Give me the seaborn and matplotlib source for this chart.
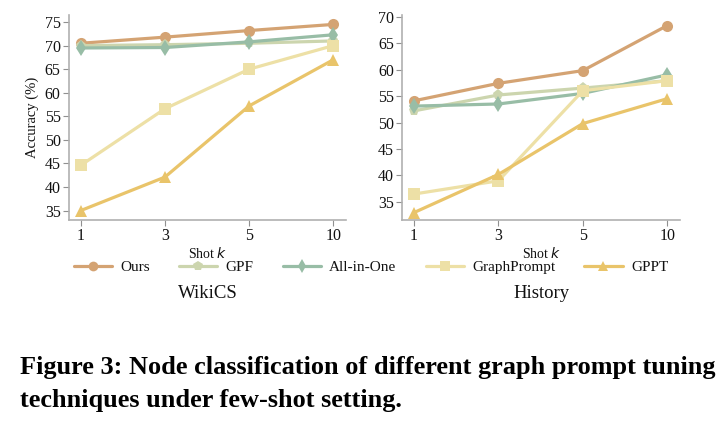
import matplotlib
matplotlib.use('Agg')
import matplotlib.pyplot as plt
import pandas as pd
import seaborn as sns

shots = ['1', '3', '5', '10']
methods = ['Ours', 'GPF', 'All-in-One', 'GraphPrompt', 'GPPT']
colors = ['#D4A373', '#CCD5AE', '#98BDA6', '#EDE0A6', '#E9C46A']
markers = ['o', 'p', 'd', 's', '^']

wikics_ours = [70.5, 71.8, 73.2, 74.5]
wikics_gpf = [70.0, 70.2, 70.5, 71.0]
wikics_allinone = [69.5, 69.6, 70.8, 72.3]
wikics_graphprompt = [44.6, 56.6, 65.0, 70.0]
wikics_gppt = [35.0, 42.1, 57.2, 67.0]

history_ours = [54.1, 57.4, 59.8, 68.3]
history_gpf = [52.2, 55.2, 56.5, 57.9]
history_allinone = [53.1, 53.5, 55.5, 59.0]
history_graphprompt = [36.5, 39.0, 56.0, 57.9]
history_gppt = [33.0, 40.2, 49.8, 54.5]

wikics = [wikics_ours, wikics_gpf, wikics_allinone, wikics_graphprompt, wikics_gppt]
history = [history_ours, history_gpf, history_allinone, history_graphprompt, history_gppt]


def to_frame(series):
    rows = []
    for m, vals in zip(methods, series):
        for s, v in zip(shots, vals):
            rows.append({'shot': s, 'acc': v, 'method': m})
    return pd.DataFrame(rows)


sns.set_style('white')
plt.rcParams['font.family'] = ['Liberation Serif', 'DejaVu Serif']
plt.rcParams['text.color'] = '#111111'
plt.rcParams['axes.labelcolor'] = '#111111'
plt.rcParams['xtick.labelcolor'] = '#111111'
plt.rcParams['ytick.labelcolor'] = '#111111'

fig = plt.figure(figsize=(7.26, 4.26), dpi=100)
ax1 = fig.add_axes([0.095, 0.4836, 0.382, 0.4812])
ax2 = fig.add_axes([0.554, 0.4836, 0.383, 0.4812])

palette = dict(zip(methods, colors))
mk = dict(zip(methods, markers))

for ax, series, ylim, yticks, name in [
        (ax1, wikics, (33.0, 76.5), range(35, 80, 5), 'WikiCS'),
        (ax2, history, (31.6, 70.3), range(35, 75, 5), 'History')]:
    df = to_frame(series)
    sns.lineplot(data=df, x='shot', y='acc', hue='method', style='method',
                 palette=palette, markers=mk, dashes=False, linewidth=2.3,
                 markersize=8, markeredgewidth=0, ax=ax, legend=False,
                 sort=False)
    ax.set_xlim(-0.14, 3.155)
    ax.set_ylim(*ylim)
    ax.set_yticks(list(yticks))
    for side in ['top', 'right']:
        ax.spines[side].set_visible(False)
    for side in ['left', 'bottom']:
        ax.spines[side].set_color('#b0b0b0')
        ax.spines[side].set_linewidth(1.2)
    ax.tick_params(axis='both', labelsize=11.5, length=4, color='#909090',
                   direction='out', bottom=True, left=True, pad=2)
    ax.set_xlabel('Shot $\\mathit{k}$', fontsize=10, va='center')
    ax.xaxis.set_label_coords(0.5, -0.163)
    ax.set_ylabel('')
    ax.text(0.5, -0.36, name, transform=ax.transAxes, ha='center',
            va='center', fontsize=13.5)

ax1.set_ylabel('Accuracy (%)', fontsize=10.5, labelpad=4)

handles = [plt.Line2D([], [], color=c, marker=m, linewidth=2.3, markersize=7,
                      markeredgewidth=0) for c, m in zip(colors, markers)]
fig.legend(handles, methods, loc='center', bbox_to_anchor=(0.511, 0.372),
           ncol=5, frameon=False, fontsize=11, handlelength=2.5,
           columnspacing=1.9, handletextpad=0.55)

fig.text(0.027, 0.138, 'Figure 3: Node classification of different graph prompt tuning',
         fontsize=18.9, fontweight='bold', ha='left', va='center', color='black')
fig.text(0.027, 0.061, 'techniques under few-shot setting.',
         fontsize=18.9, fontweight='bold', ha='left', va='center', color='black')

fig.savefig('out.png', dpi=100)
